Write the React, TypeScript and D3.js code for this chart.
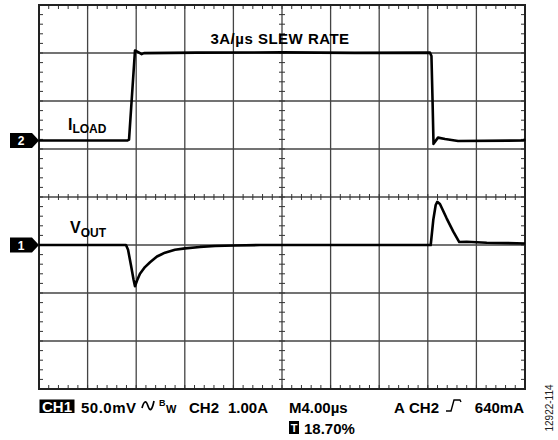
import { scaleLinear, line as d3Line, range } from "d3";

// time axis, µs (M4.00µs/div, 10 div)
const timeDivs = 10;
const usPerDiv = 4;
const vDivs = 8;

// CH2 – load current (A), 1.00A/div
const iloadTime = [0, 7.28, 7.41, 7.9, 8.17, 8.45, 8.64, 13, 20, 26, 32.18, 32.3, 32.39, 32.47, 32.84, 33.42, 34.49, 39.9, 40];
const iloadAmps = [0, 0, 0.02, 1.875, 1.84, 1.8, 1.82, 1.83, 1.835, 1.825, 1.83, 1.76, 0.84, -0.07, 0.06, 0.03, -0.01, 0, 0.03];

// CH1 – output voltage deviation (mV), 50.0mV/div
const voutTime = [0, 7.16, 7.33, 7.57, 7.78, 7.9, 8.07, 8.31, 8.72, 9.14, 9.71, 10.37, 11.19, 12.02, 13.25, 14.49, 16.13, 18.19, 32.24, 32.45, 32.65, 32.78, 33.0, 33.55, 34.1, 34.59, 35.2, 36.85, 40];
const voutMv = [0, 0, -5, -21, -36, -43, -37, -30, -23, -18, -12, -8, -5, -3.5, -2, -1, -0.5, 0, 0, 26, 41.7, 45, 42.7, 27.8, 13.9, 3.1, 3.4, 2.4, 1.6];

// channel ground offsets in divisions
const ch2Offset = 1.177;
const ch1Offset = -1;
const ampsPerDiv = 1;
const mvPerDiv = 50;

const FONT = "'Liberation Sans', Arial, Helvetica, sans-serif";

export default function App() {
  const x = scaleLinear().domain([0, timeDivs * usPerDiv]).range([39, 525]);
  const y = scaleLinear().domain([-vDivs / 2, vDivs / 2]).range([389, 5]);

  const iPts = iloadTime.map((t, i) => [x(t), y(ch2Offset + iloadAmps[i] / ampsPerDiv)] as [number, number]);
  const vPts = voutTime.map((t, i) => [x(t), y(ch1Offset + voutMv[i] / mvPerDiv)] as [number, number]);
  const line = d3Line();

  const xTicks = range(0, timeDivs + 1).map((d) => d * usPerDiv);
  const yTicks = range(-vDivs / 2, vDivs / 2 + 1);
  const xMinor = range(0, timeDivs * 5 + 1).map((d) => (d * usPerDiv) / 5);
  const yMinor = range(-vDivs * 2.5, vDivs * 2.5 + 1).map((d) => d / 5);

  const cx = x(20);
  const cy = y(0);
  const y2 = y(ch2Offset);
  const y1 = y(ch1Offset);

  const marker = (yy: number) =>
    `M10,${yy - 7.5} H32 L39,${yy} L32,${yy + 7.5} H10 Z`;

  return (
    <div style={{ position: "absolute", left: 0, top: 0 }}>
      <svg width={558} height={440} style={{ display: "block", background: "#fff" }} fontFamily={FONT}>
        {/* grid */}
        <g stroke="#444" strokeWidth={1.3}>
          {xTicks.map((t) => (
            <line key={"v" + t} x1={x(t)} x2={x(t)} y1={y(-4)} y2={y(4)} />
          ))}
          {yTicks.map((d) => (
            <line key={"h" + d} x1={x(0)} x2={x(40)} y1={y(d)} y2={y(d)} />
          ))}
        </g>
        {/* minor ticks */}
        <g stroke="#333" strokeWidth={1}>
          {xMinor.map((t) => (
            <g key={"mx" + t}>
              <line x1={x(t)} x2={x(t)} y1={y(4)} y2={y(4) + 4} />
              <line x1={x(t)} x2={x(t)} y1={y(-4)} y2={y(-4) - 4} />
              <line x1={x(t)} x2={x(t)} y1={cy - 3} y2={cy + 3} />
            </g>
          ))}
          {yMinor.map((d) => (
            <g key={"my" + d}>
              <line x1={x(0)} x2={x(0) + 4} y1={y(d)} y2={y(d)} />
              <line x1={x(40)} x2={x(40) - 4} y1={y(d)} y2={y(d)} />
              <line x1={cx - 3} x2={cx + 3} y1={y(d)} y2={y(d)} />
            </g>
          ))}
        </g>
        <rect x={x(0)} y={y(4)} width={x(40) - x(0)} height={y(-4) - y(4)} fill="none" stroke="#222" strokeWidth={2} />

        {/* traces */}
        <path d={line(iPts)!} fill="none" stroke="#000" strokeWidth={2.6} strokeLinejoin="round" />
        <path d={line(vPts)!} fill="none" stroke="#000" strokeWidth={2.6} strokeLinejoin="round" />

        {/* channel markers */}
        <path d={marker(y2)} fill="#000" />
        <text x={21} y={y2 + 4.5} fill="#fff" fontSize={12} fontWeight="bold" textAnchor="middle">2</text>
        <path d={marker(y1)} fill="#000" />
        <text x={21} y={y1 + 4.5} fill="#fff" fontSize={12} fontWeight="bold" textAnchor="middle">1</text>

        {/* annotations */}
        <text x={280} y={44} fontSize={15} fontWeight="bold" textAnchor="middle" letterSpacing={0.5}>3A/µs SLEW RATE</text>
        <text x={68} y={130} fontSize={16} fontWeight="bold">
          I<tspan fontSize={12} dy={3}>LOAD</tspan>
        </text>
        <text x={70} y={233} fontSize={16} fontWeight="bold">
          V<tspan fontSize={12} dy={3.5}>OUT</tspan>
        </text>

        {/* scope readout */}
        <g fontSize={15} fontWeight="bold" fill="#000">
          <rect x={39.5} y={399.5} width={35} height={13.5} fill="#000" />
          <text x={57} y={412} fill="#fff" textAnchor="middle">CH1</text>
          <text x={81} y={412.5} textLength={55}>50.0mV</text>
          <path d="M142,408 Q145,397 148,406 Q151,415 154,401" fill="none" stroke="#000" strokeWidth={1.7} />
          <text x={159} y={406} fontSize={9}>B</text>
          <text x={166} y={413} fontSize={11}>W</text>
          <text x={189} y={412.5}>CH2</text>
          <text x={268} y={412.5} textAnchor="end">1.00A</text>
          <text x={289} y={412.5}>M4.00µs</text>
          <text x={394} y={412.5}>A</text>
          <text x={409} y={412.5}>CH2</text>
          <path d="M446,411 H451 L454,400 H460 L461,402" fill="none" stroke="#000" strokeWidth={1.4} />
          <text x={524} y={412.5} textAnchor="end">640mA</text>
          <rect x={289} y={421} width={10} height={13} fill="#000" />
          <text x={294} y={432} fill="#fff" fontSize={11} textAnchor="middle">T</text>
          <text x={304} y={433.5}>18.70%</text>
        </g>
        <text transform="translate(553,408) rotate(-90)" fontSize={10} textAnchor="middle" fill="#222">12922-114</text>
      </svg>
    </div>
  );
}
